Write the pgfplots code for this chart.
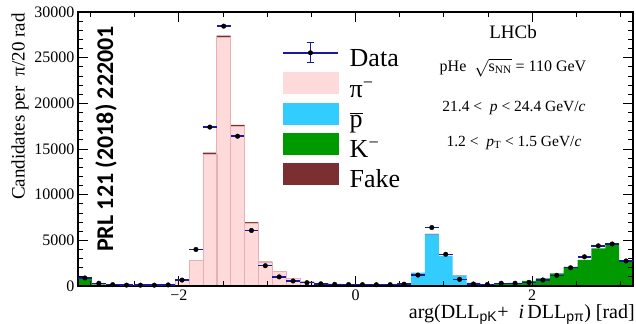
\documentclass[border=0pt]{standalone}
\usepackage{pgfplots}
\pgfplotsset{compat=1.18}
\usepackage{pgfplotstable}
\usepackage{fontspec}
\setmainfont{Liberation Serif}
\setsansfont{Liberation Sans}
\newfontfamily\wm{Carlito}
\definecolor{pinkc}{RGB}{255,218,218}
\definecolor{pinkd}{RGB}{228,178,178}
\definecolor{cyanc}{RGB}{51,204,255}
\definecolor{greenc}{RGB}{0,153,0}
\definecolor{fakec}{RGB}{122,48,48}
\definecolor{navyc}{RGB}{25,25,160}

\pgfplotstableread{
x pi pb K fake
-3.0631 20 0 850 0
-2.9060 60 10 110 0
-2.7489 60 10 40 0
-2.5918 60 5 20 0
-2.4347 60 5 15 0
-2.2777 70 5 10 0
-2.1206 120 5 10 0
-1.9635 680 0 5 15
-1.8064 2770 0 0 50
-1.6493 14450 0 0 150
-1.4923 27200 0 0 200
-1.3352 17480 0 0 150
-1.1781 6900 0 0 100
-1.0210 2600 0 0 60
-0.8639 1600 0 0 40
-0.7069 810 0 0 30
-0.5498 460 0 0 20
-0.3927 310 0 0 15
-0.2356 230 0 0 10
-0.0785 180 5 0 10
0.0785 150 10 0 10
0.2356 130 20 0 10
0.3927 90 60 0 10
0.5498 50 160 0 10
0.7069 30 1400 0 20
0.8639 20 5600 0 80
1.0210 20 3250 0 40
1.1781 15 1100 5 15
1.3352 10 250 60 10
1.4923 5 80 110 5
1.6493 0 40 200 5
1.8064 0 20 330 0
1.9635 0 10 540 0
2.1206 0 5 835 0
2.2777 0 0 1390 0
2.4347 0 0 2100 0
2.5918 0 0 2850 0
2.7489 0 0 4130 0
2.9060 0 0 4600 0
3.0631 0 0 2660 0
}\model

\pgfplotstableread{
x y ex ey
-3.0631 880 0.0785 30
-2.9060 300 0.0785 17
-2.7489 150 0.0785 12
-2.5918 100 0.0785 10
-2.4347 90 0.0785 10
-2.2777 90 0.0785 10
-2.1206 120 0.0785 11
-1.9635 650 0.0785 25
-1.8064 4000 0.0785 63
-1.6493 17400 0.0785 132
-1.4923 28450 0.0785 169
-1.3352 16400 0.0785 128
-1.1781 6080 0.0785 78
-1.0210 2220 0.0785 47
-0.8639 1000 0.0785 32
-0.7069 550 0.0785 23
-0.5498 360 0.0785 19
-0.3927 240 0.0785 15
-0.2356 180 0.0785 13
-0.0785 160 0.0785 13
0.0785 150 0.0785 12
0.2356 140 0.0785 12
0.3927 150 0.0785 12
0.5498 200 0.0785 14
0.7069 1200 0.0785 35
0.8639 6400 0.0785 80
1.0210 3470 0.0785 59
1.1781 730 0.0785 27
1.3352 220 0.0785 15
1.4923 160 0.0785 13
1.6493 300 0.0785 17
1.8064 300 0.0785 17
1.9635 400 0.0785 20
2.1206 660 0.0785 26
2.2777 1170 0.0785 34
2.4347 2000 0.0785 45
2.5918 3200 0.0785 57
2.7489 4400 0.0785 66
2.9060 4600 0.0785 68
3.0631 2740 0.0785 52
}\data

\pgfplotsset{
  common/.style={
    width=555bp, height=274bp, scale only axis,
    xmin=-3.14159, xmax=3.14159, ymin=0, ymax=30000,
  }
}

\begin{document}
\begin{tikzpicture}
\begin{axis}[common,
  axis on top,
  axis line style={line width=1.2bp},
  tick align=inside,
  tick style={black, line width=0.8bp},
  major tick length=10bp, minor tick length=5bp,
  xtick={-2,0,2}, xticklabels={−2,0,2},
  minor xtick={-3,-2.5,-1.5,-1,-0.5,0.5,1,1.5,2.5,3},
  ytick={0,5000,10000,15000,20000,25000,30000},
  yticklabels={0,5000,10000,15000,20000,25000,30000},
  scaled y ticks=false,
  minor y tick num=4,
  ticklabel style={font=\fontsize{16bp}{18bp}\selectfont},
  ybar stacked, bar width=0.1570796,
]
\addplot[fill=pinkc, draw=pinkd, line width=0.5bp] table[x=x,y=pi]{\model};
\addplot[fill=cyanc, draw=none] table[x=x,y=pb]{\model};
\addplot[fill=greenc, draw=none] table[x=x,y=K]{\model};
\addplot[fill=fakec, draw=none] table[x=x,y=fake]{\model};
\end{axis}

\begin{axis}[common, hide axis,
  legend style={draw=none, fill=none, at={(rel axis cs:0.3676,0.8905)}, anchor=north west,
    font=\fontsize{26bp}{28bp}\selectfont, inner sep=0pt, row sep=0.5bp, column sep=11bp,
    nodes={inner sep=0pt, text height=18bp, text depth=5bp}},
  legend cell align=left,
]
\addplot[only marks, mark=*, mark size=2.3bp, mark options={fill=black, draw=black},
  error bars/.cd, x dir=both, x explicit, y dir=both, y explicit,
  error mark=none, error bar style={navyc, line width=1.5bp},
  /pgfplots/legend image code/.code={
  \draw[navyc, line width=1.5bp] (0bp,7.5bp) -- (55bp,7.5bp);
  \draw[navyc, line width=1.2bp] (27.5bp,-2.5bp) -- (27.5bp,17.5bp);
  \draw[navyc, line width=1.2bp] (24bp,-2.5bp)--(31bp,-2.5bp) (24bp,17.5bp)--(31bp,17.5bp);
  \fill[black] (27.5bp,7.5bp) circle (2.3bp);}]
  table[x=x, y=y, x error=ex, y error=ey]{\data};
\addlegendimage{legend image code/.code={\fill[pinkc] (0bp,-3bp) rectangle (55bp,18bp);}}
\addlegendimage{legend image code/.code={\fill[cyanc] (0bp,-3bp) rectangle (55bp,18bp);}}
\addlegendimage{legend image code/.code={\fill[greenc] (0bp,-3bp) rectangle (55bp,18bp);}}
\addlegendimage{legend image code/.code={\fill[fakec] (0bp,-3bp) rectangle (55bp,18bp);}}
\legend{Data, π\textsuperscript{−}, $\overline{\mbox{p}}$, K\textsuperscript{−}, Fake}
\end{axis}

\pgfresetboundingbox
\begin{scope}[shift={(current axis.south west)}, x=1bp, y=-1bp]
\begin{scope}[shift={(-78,-286)}]
\useasboundingbox (0,0) rectangle (636,323);
\node[rotate=90, anchor=east, font=\fontsize{19bp}{20bp}\selectfont, inner sep=0pt] at (20,13)
  {Candidates per\hspace{0.55em}π/20 rad};
\node[rotate=90, anchor=base, font=\wm\bfseries\fontsize{24bp}{24bp}\selectfont, inner sep=0pt] at (113,139)
  {PRL 121 (2018) 222001};
\node[anchor=base east, font=\fontsize{20bp}{22bp}\selectfont, inner sep=0pt] at (635,318)
  {arg(DLL\textsubscript{\textsf{pK}}+\ \ \textit{i}\,DLL\textsubscript{\textsf{pπ}}) [rad]};
\node[anchor=base, font=\fontsize{19bp}{20bp}\selectfont, inner sep=0pt] at (513,38) {LHCb};
\node[anchor=base, font=\fontsize{16bp}{18bp}\selectfont, inner sep=0pt] at (513,71)
  {pHe\ \ $\sqrt{\mbox{s\textsubscript{NN}}}$ = 110 GeV};
\node[anchor=base, font=\fontsize{15.5bp}{18bp}\selectfont, inner sep=0pt] at (514,111.7)
  {21.4 <\ \ \textit{p} < 24.4 GeV/\textit{c}};
\node[anchor=base, font=\fontsize{15.5bp}{18bp}\selectfont, inner sep=0pt] at (514,146.7)
  {1.2 <\ \ \textit{p}\textsubscript{T} < 1.5 GeV/\textit{c}};
\end{scope}
\end{scope}
\end{tikzpicture}
\end{document}
